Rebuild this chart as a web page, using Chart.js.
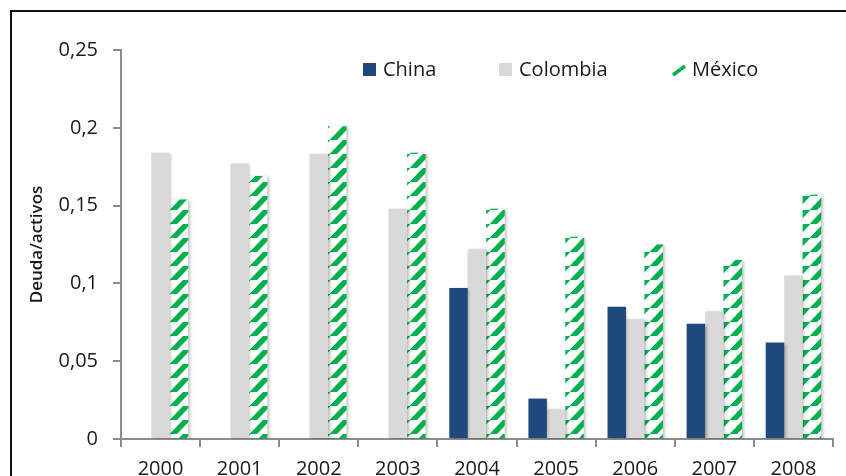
<!DOCTYPE html>
<html>
<head>
<meta charset="utf-8">
<title>Deuda/activos</title>
<script src="https://cdn.jsdelivr.net/npm/chart.js@4.4.1/dist/chart.umd.min.js"></script>
<style>
  html, body { margin: 0; padding: 0; background: #fff; }
  #wrap { width: 846px; height: 476px; }
</style>
</head>
<body>
<div id="wrap"><canvas id="deudaChart" width="846" height="476"></canvas></div>
<script>
// Razón deuda/activos por país, 2000-2008
const years = ['2000', '2001', '2002', '2003', '2004', '2005', '2006', '2007', '2008'];
const china = [null, null, null, null, 0.097, 0.026, 0.085, 0.074, 0.062];
const colombia = [0.184, 0.177, 0.183, 0.148, 0.122, 0.019, 0.077, 0.082, 0.105];
const mexico = [0.154, 0.169, 0.201, 0.184, 0.148, 0.130, 0.125, 0.115, 0.157];
const yTickLabels = ['0', '0,05', '0,1', '0,15', '0,2', '0,25'];

const AZUL = '#1F497D';
const GRIS = '#D9D9D9';
const VERDE = '#00B050';
const EJE = '#8C8C8C';
const TEXTO = '#1a1a1a';

Chart.defaults.font.family = "'Open Sans', sans-serif";
Chart.defaults.color = TEXTO;

// trama de rayas diagonales verdes para México
function crearTrama() {
    const w = 20, h = 14;
    const c = document.createElement('canvas');
    c.width = w; c.height = h;
    const g = c.getContext('2d');
    g.fillStyle = '#fff';
    g.fillRect(0, 0, w, h);
    g.strokeStyle = VERDE;
    g.lineWidth = 5.5;
    for (let k = 0; k <= 2; k++) {
        g.beginPath();
        g.moveTo(k * w - w, h * 2);
        g.lineTo(k * w + w, -h);
        g.stroke();
    }
    return g.createPattern(c, 'repeat');
}

// marco y fondo
const marco = {
    id: 'marco',
    beforeDraw(chart) {
        const ctx = chart.ctx;
        ctx.save();
        ctx.fillStyle = '#fff';
        ctx.fillRect(0, 0, chart.width, chart.height);
        ctx.strokeStyle = '#111';
        ctx.lineWidth = 2;
        ctx.strokeRect(11, 11, chart.width + 20, chart.height + 20);
        ctx.restore();
    }
};

// sombra suave bajo las barras
const sombra = {
    id: 'sombra',
    beforeDatasetsDraw(chart) {
        const ctx = chart.ctx;
        ctx.save();
        ctx.shadowColor = 'rgba(0,0,0,0.28)';
        ctx.shadowBlur = 3;
        ctx.shadowOffsetX = 1.5;
        ctx.shadowOffsetY = 1;
    },
    afterDatasetsDraw(chart) {
        chart.ctx.restore();
    }
};

// leyenda dentro del área del gráfico
const leyendaX = [363, 499, 672];
const leyendaTextoX = [383, 519, 692];
const leyenda = {
    id: 'leyenda',
    afterDraw(chart) {
        const ctx = chart.ctx;
        const y = 76;
        ctx.save();
        ctx.font = "20px 'Open Sans', sans-serif";
        ctx.textBaseline = 'alphabetic';
        ctx.fillStyle = TEXTO;
        chart.data.datasets.forEach((ds, i) => {
            const x = leyendaX[i];
            if (i === 2) {
                ctx.save();
                ctx.strokeStyle = VERDE;
                ctx.lineWidth = 3.5;
                ctx.beginPath();
                ctx.moveTo(x + 1, y - 1);
                ctx.lineTo(x + 13, y - 10);
                ctx.stroke();
                ctx.restore();
            } else {
                ctx.fillStyle = ds.backgroundColor;
                ctx.fillRect(x, y - 13, 13, 13);
            }
            ctx.fillStyle = TEXTO;
            ctx.fillText(ds.label, leyendaTextoX[i], y);
        });
        ctx.restore();
    }
};

const ctx = document.getElementById('deudaChart').getContext('2d');
const trama = crearTrama();

new Chart(ctx, {
    type: 'bar',
    data: {
        labels: years,
        datasets: [
            { label: 'China', data: china, backgroundColor: AZUL },
            { label: 'Colombia', data: colombia, backgroundColor: GRIS },
            { label: 'México', data: mexico, backgroundColor: trama }
        ]
    },
    options: {
        responsive: false,
        animation: false,
        categoryPercentage: 0.7,
        barPercentage: 1,
        layout: { padding: { top: 50, right: 13, bottom: 0, left: 0 } },
        plugins: {
            legend: { display: false },
            tooltip: { enabled: false }
        },
        scales: {
            x: {
                grid: {
                    drawOnChartArea: false,
                    drawTicks: true,
                    tickLength: 8,
                    color: EJE,
                    lineWidth: 2
                },
                border: { color: EJE, width: 2 },
                ticks: { padding: 10, font: { size: 20 }, color: TEXTO },
                afterFit(scale) { scale.height = 37; }
            },
            y: {
                min: 0,
                max: 0.25,
                ticks: {
                    stepSize: 0.05,
                    padding: 15,
                    font: { size: 20 },
                    color: TEXTO,
                    callback: (value, index) => yTickLabels[index]
                },
                grid: {
                    drawOnChartArea: false,
                    drawTicks: true,
                    tickLength: 8,
                    color: EJE,
                    lineWidth: 2
                },
                border: { color: EJE, width: 2 },
                title: {
                    display: true,
                    text: 'Deuda/activos',
                    font: { size: 17, weight: '600' },
                    color: TEXTO,
                    padding: { top: 27, bottom: 0 }
                },
                afterFit(scale) { scale.width = 121; }
            }
        }
    },
    plugins: [marco, sombra, leyenda]
});
</script>
</body>
</html>
